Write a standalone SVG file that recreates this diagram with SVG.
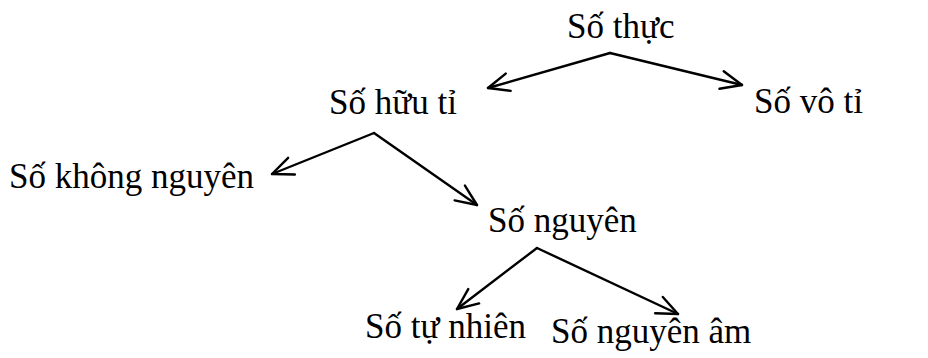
<svg xmlns="http://www.w3.org/2000/svg" width="928" height="358" viewBox="0 0 928 358">
<style>
text{font-family:"Liberation Serif","Times New Roman",serif;font-size:35px;fill:#000}
.c line{stroke:#000;stroke-width:2.4;fill:none;stroke-linecap:round}
</style>
<defs>
<marker id="ah" viewBox="-24 -12 26 24" refX="0" refY="0" markerWidth="26" markerHeight="24" markerUnits="userSpaceOnUse" orient="auto">
<path d="M-21,-9 L0,0 L-21,9" fill="none" stroke="#000" stroke-width="2.4" stroke-linecap="round" stroke-linejoin="round"/>
</marker>
</defs>
<rect width="928" height="358" fill="#fff"/>
<g class="c" id="connectors">
<line x1="610" y1="53" x2="488" y2="88" marker-end="url(#ah)"/>
<line x1="610" y1="53" x2="742" y2="85" marker-end="url(#ah)"/>
<line x1="374" y1="133" x2="272" y2="174" marker-end="url(#ah)"/>
<line x1="374" y1="133" x2="477" y2="205" marker-end="url(#ah)"/>
<line x1="537" y1="248" x2="457" y2="309" marker-end="url(#ah)"/>
<line x1="537" y1="248" x2="678" y2="314" marker-end="url(#ah)"/>
</g>
<g id="so-thuc"><text x="567" y="38">Số thực</text></g>
<g id="so-huu-ti"><text x="329" y="114">Số hữu tỉ</text></g>
<g id="so-vo-ti"><text x="754" y="113">Số vô tỉ</text></g>
<g id="so-khong-nguyen"><text x="9" y="188">Số không nguyên</text></g>
<g id="so-nguyen"><text x="488" y="232">Số nguyên</text></g>
<g id="so-tu-nhien"><text x="365" y="338">Số tự nhiên</text></g>
<g id="so-nguyen-am"><text x="551" y="343">Số nguyên âm</text></g>
</svg>
